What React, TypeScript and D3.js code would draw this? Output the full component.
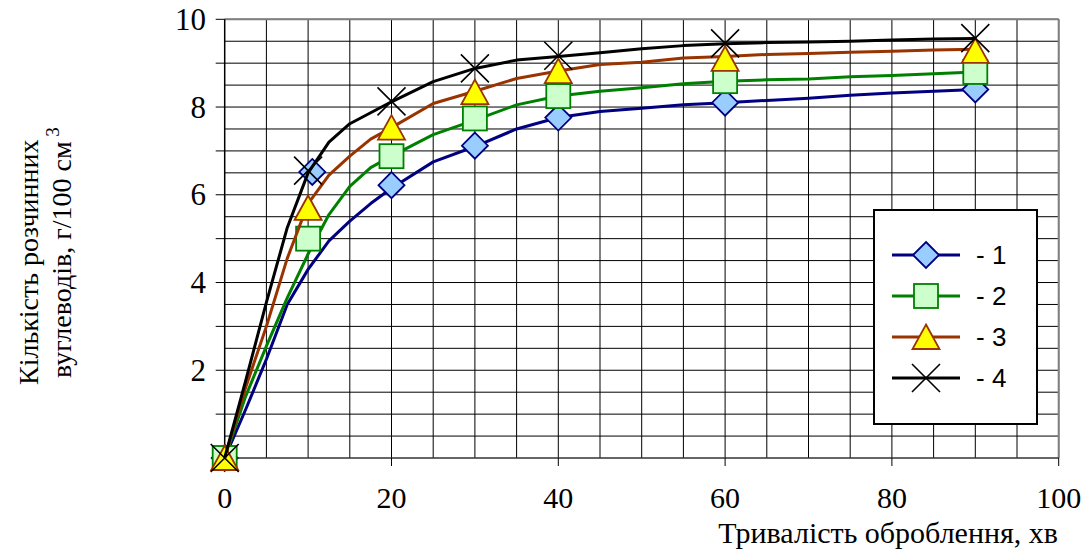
import React from 'react';
import * as d3 from 'd3';

// time points of the drawn curves, min
const lineX = [0, 2.5, 5, 7.5, 10, 12.5, 15, 17.5, 20, 25, 30, 35, 40, 45, 50, 55, 60, 65, 70, 75, 80, 85, 90];
const s1Line = [0, 1.1, 2.25, 3.5, 4.3, 4.95, 5.4, 5.8, 6.15, 6.75, 7.1, 7.5, 7.76, 7.9, 7.97, 8.05, 8.1, 8.15, 8.2, 8.27, 8.32, 8.36, 8.4];
const s2Line = [0, 1.4, 2.55, 3.65, 4.65, 5.55, 6.19, 6.62, 6.88, 7.37, 7.7, 8.05, 8.25, 8.36, 8.44, 8.53, 8.59, 8.62, 8.64, 8.69, 8.72, 8.76, 8.8];
const s3Line = [0, 1.6, 3.0, 4.55, 5.8, 6.45, 6.88, 7.27, 7.53, 8.08, 8.36, 8.65, 8.82, 8.97, 9.02, 9.12, 9.15, 9.2, 9.22, 9.25, 9.27, 9.3, 9.32];
const s4Line = [0, 1.75, 3.55, 5.25, 6.5, 7.2, 7.62, 7.87, 8.12, 8.58, 8.88, 9.07, 9.15, 9.24, 9.33, 9.4, 9.44, 9.47, 9.48, 9.5, 9.53, 9.55, 9.56];

// measured points (markers)
const markX = [0, 10, 20, 30, 40, 60, 90];
const s1MarkX = [0, 10.5, 20, 30, 40, 60, 90];
const s1Mark = [0, 6.52, 6.22, 7.12, 7.76, 8.1, 8.4];
const s2Mark = [0, 5.0, 6.88, 7.74, 8.25, 8.59, 8.8];
const s3Mark = [0, 5.7, 7.53, 8.34, 8.82, 9.1, 9.28];
const s4Mark = [0, 6.55, 8.13, 8.88, 9.17, 9.45, 9.57];

const seriesNames = ['- 1', '- 2', '- 3', '- 4'];
const xTickLabels = [0, 20, 40, 60, 80, 100];
const yTickLabels = [2, 4, 6, 8, 10];

const W = 1089;
const H = 551;
const serif = '"Liberation Serif", "Times New Roman", serif';
const sans = '"Liberation Sans", Arial, sans-serif';

const x = d3.scaleLinear().domain([0, 100]).range([224.7, 1058.7]);
const y = d3.scaleLinear().domain([0, 10]).range([458, 19.3]);

type Kind = 'diamond' | 'square' | 'triangle' | 'x';

const styles = [
  { color: '#000080', fill: '#99ccff', kind: 'diamond' as Kind },
  { color: '#008000', fill: '#ccffcc', kind: 'square' as Kind },
  { color: '#993300', fill: '#ffff00', kind: 'triangle' as Kind },
  { color: '#000000', fill: 'none', kind: 'x' as Kind },
];

function Marker({ kind, cx, cy, color, fill }: { kind: Kind; cx: number; cy: number; color: string; fill: string }) {
  if (kind === 'diamond') {
    const r = 13;
    return <path d={`M${cx},${cy - r}L${cx + r},${cy}L${cx},${cy + r}L${cx - r},${cy}Z`} fill={fill} stroke={color} strokeWidth={1.8} />;
  }
  if (kind === 'square') {
    const r = 12;
    return <rect x={cx - r} y={cy - r} width={2 * r} height={2 * r} fill={fill} stroke={color} strokeWidth={1.8} />;
  }
  if (kind === 'triangle') {
    return <path d={`M${cx},${cy - 12.5}L${cx + 13.5},${cy + 12}L${cx - 13.5},${cy + 12}Z`} fill={fill} stroke={color} strokeWidth={1.8} />;
  }
  const r = 14;
  return <path d={`M${cx - r},${cy - r}L${cx + r},${cy + r}M${cx - r},${cy + r}L${cx + r},${cy - r}`} stroke={color} strokeWidth={1.6} fill="none" />;
}

export default function App() {
  const lines = [s1Line, s2Line, s3Line, s4Line];
  const marks = [s1Mark, s2Mark, s3Mark, s4Mark];
  const marksX = [s1MarkX, markX, markX, markX];

  const lineGen = d3.line<[number, number]>().x((d) => x(d[0])).y((d) => y(d[1]));

  const hGrid = d3.range(0.5, 10.01, 0.5);
  const vGrid = d3.range(5, 100.01, 5);
  const yMinor = d3.range(1, 10.01, 1);

  const legendY = seriesNames.map((_, i) => 255 + i * 41);

  return (
    <svg width={W} height={H} style={{ position: 'absolute', left: 0, top: 0, background: '#fff' }}>
      <rect width={W} height={H} fill="#fff" />
      {/* grid */}
      {hGrid.map((v) => (
        <line key={'h' + v} x1={x(0)} x2={x(100)} y1={y(v)} y2={y(v)} stroke="#000" strokeWidth={1} />
      ))}
      {vGrid.map((v) => (
        <line key={'v' + v} x1={x(v)} x2={x(v)} y1={y(0)} y2={y(10)} stroke="#000" strokeWidth={1} />
      ))}
      <line x1={x(0)} x2={x(100)} y1={y(10)} y2={y(10)} stroke="#808080" strokeWidth={2} />
      <line x1={x(100)} x2={x(100)} y1={y(0)} y2={y(10)} stroke="#808080" strokeWidth={2} />

      {/* axes */}
      <line x1={x(0)} x2={x(0)} y1={y(0)} y2={y(10)} stroke="#000" strokeWidth={1.5} />
      <line x1={x(0)} x2={x(100)} y1={y(0)} y2={y(0)} stroke="#333" strokeWidth={1.5} />
      {yMinor.map((v) => (
        <line key={'yt' + v} x1={x(0) - 9} x2={x(0)} y1={y(v)} y2={y(v)} stroke="#000" strokeWidth={1} />
      ))}
      {xTickLabels.map((v) => (
        <line key={'xt' + v} x1={x(v)} x2={x(v)} y1={y(0)} y2={y(0) + 8} stroke="#000" strokeWidth={1} />
      ))}
      {yTickLabels.map((v) => (
        <text key={'yl' + v} x={206} y={y(v) + 10.5} textAnchor="end" fontFamily={serif} fontSize={31} fill="#000">
          {v}
        </text>
      ))}
      {xTickLabels.map((v) => (
        <text key={'xl' + v} x={x(v)} y={508} textAnchor="middle" fontFamily={serif} fontSize={30} fill="#000">
          {v}
        </text>
      ))}

      {/* axis titles */}
      <text x={1058} y={543} textAnchor="end" fontFamily={serif} fontSize={30} fill="#000">
        Тривалість оброблення, хв
      </text>
      <g transform="translate(38,385) rotate(-90)">
        <text x={0} y={0} fontFamily={serif} fontSize={28} fill="#000">
          Кількість розчинних
        </text>
      </g>
      <g transform="translate(71,378) rotate(-90)">
        <text x={0} y={0} fontFamily={serif} fontSize={28} fill="#000">
          вуглеводів, г/100 см
          <tspan fontSize={19} dy={-12}> 3</tspan>
        </text>
      </g>

      {/* series */}
      {styles.map((s, i) => (
        <g key={'s' + i}>
          <path
            d={lineGen(lineX.map((lx, j) => [lx, lines[i][j]] as [number, number])) || ''}
            fill="none"
            stroke={s.color}
            strokeWidth={3}
            strokeLinejoin="round"
          />
          {marks[i].map((v, j) => (
            <Marker key={j} kind={s.kind} cx={x(marksX[i][j])} cy={y(v)} color={s.color} fill={s.fill} />
          ))}
        </g>
      ))}

      {/* legend */}
      <rect x={874} y={210} width={163} height={214} fill="#fff" stroke="#000" strokeWidth={2} />
      {styles.map((s, i) => (
        <g key={'lg' + i}>
          <line x1={892} x2={960} y1={legendY[i]} y2={legendY[i]} stroke={s.color} strokeWidth={3} />
          <Marker kind={s.kind} cx={926} cy={legendY[i]} color={s.color} fill={s.fill} />
          <text x={976} y={legendY[i] + 9} fontFamily={sans} fontSize={26} fill="#000">
            {seriesNames[i]}
          </text>
        </g>
      ))}
    </svg>
  );
}
